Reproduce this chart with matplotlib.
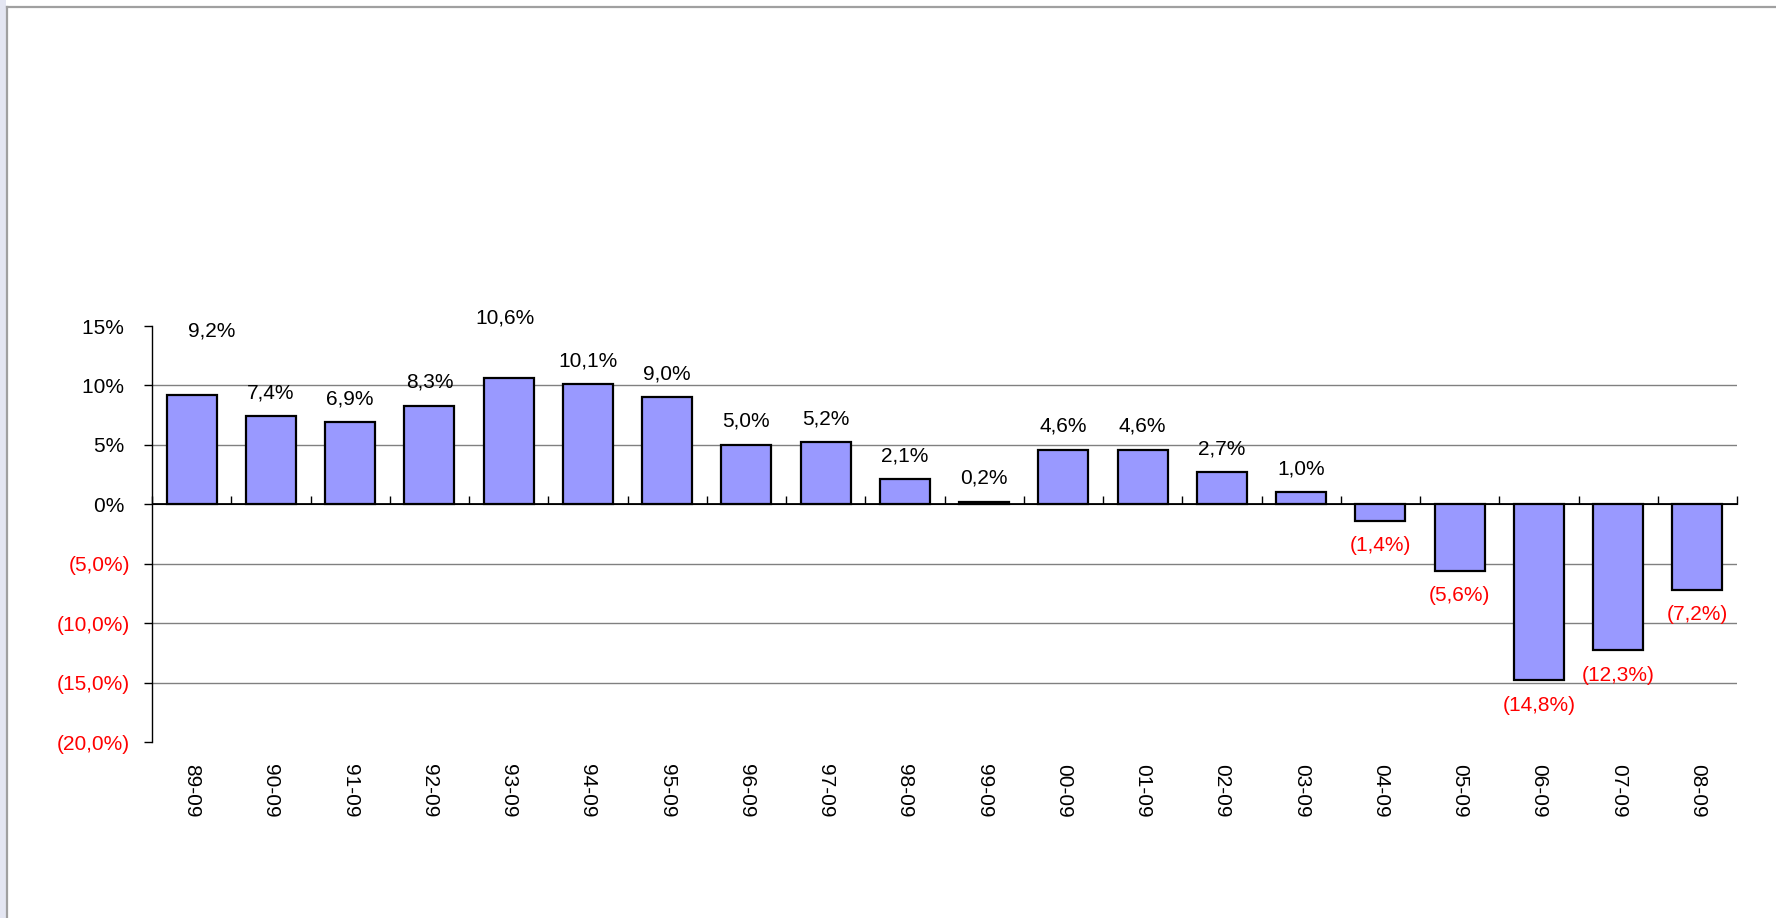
import matplotlib
matplotlib.use("Agg")
import matplotlib.pyplot as plt
from matplotlib.lines import Line2D
from matplotlib.patches import Rectangle
import numpy as np

plt.rcParams['font.family'] = ['Liberation Sans', 'DejaVu Sans']

categories = ["89-09", "90-09", "91-09", "92-09", "93-09", "94-09", "95-09",
              "96-09", "97-09", "98-09", "99-09", "00-09", "01-09", "02-09",
              "03-09", "04-09", "05-09", "06-09", "07-09", "08-09"]
values = [9.2, 7.4, 6.9, 8.3, 10.6, 10.1, 9.0, 5.0, 5.2, 2.1, 0.2, 4.6, 4.6,
          2.7, 1.0, -1.4, -5.6, -14.8, -12.3, -7.2]
ytick_values = [15, 10, 5, 0, -5, -10, -15, -20]
ytick_labels = ["15%", "10%", "5%", "0%", "(5,0%)", "(10,0%)", "(15,0%)", "(20,0%)"]
# labels Excel moved away from their bars (index -> (x shift, y) in data units)
label_override = {0: (0.25, 14.6), 4: (-0.04, 15.7)}

W, H = 1776, 918
fig = plt.figure(figsize=(W / 100, H / 100), dpi=100)
fig.patch.set_facecolor("white")

# slide frame decorations
fig.add_artist(Rectangle((0, 0), 6 / W, 1, transform=fig.transFigure,
                         facecolor="#E4E6F2", edgecolor="none"))
fig.add_artist(Line2D([7 / W, 7 / W], [0, 1 - 7 / H], transform=fig.transFigure,
                      color="#A0A0A0", lw=1.6))
fig.add_artist(Line2D([7 / W, 1], [1 - 7 / H, 1 - 7 / H], transform=fig.transFigure,
                      color="#A0A0A0", lw=1.6))

left, right, top, bottom = 152 / W, 1737 / W, 1 - 326 / H, 1 - 742 / H
ax = fig.add_axes([left, bottom, right - left, top - bottom])
ax.patch.set_alpha(0)

x = np.arange(len(categories))
ax.bar(x, values, width=0.63, color="#9999FF", edgecolor="black", linewidth=1.6, zorder=3)

ax.set_xlim(-0.5, len(categories) - 0.5)
ax.set_ylim(-20, 15)

# gridlines
for v in ytick_values:
    if v not in (0, 15, -20):
        ax.axhline(v, color="#808080", lw=1.0, zorder=1)
ax.axhline(0, color="black", lw=1.3, zorder=4)

for s in ["top", "right", "bottom"]:
    ax.spines[s].set_visible(False)
ax.spines["left"].set_color("black")
ax.spines["left"].set_linewidth(1.0)

ax.set_yticks(ytick_values)
ax.set_yticklabels([l if l.startswith("(") else l + " " for l in ytick_labels])
ax.tick_params(axis="y", length=6, width=1, pad=10, labelsize=15)
for lbl, v in zip(ax.get_yticklabels(), ytick_values):
    lbl.set_color("red" if v < 0 else "black")

ax.set_xticks(x)
ax.set_xticklabels(categories, rotation=270, fontsize=15, va="top", ha="center")
ax.tick_params(axis="x", length=0, pad=16)

# tick marks on the zero line at category boundaries
sec = ax.secondary_xaxis((0 - (-20)) / 35)
sec.set_xticks(np.arange(len(categories) + 1) - 0.5)
sec.set_xticklabels([])
sec.tick_params(axis="x", length=6, width=1, direction="out", color="black")
sec.spines["bottom"].set_visible(False)

for i, v in enumerate(values):
    txt = f"{abs(v):.1f}".replace(".", ",") + "%"
    if v < 0:
        txt = "(" + txt + ")"
    if i in label_override:
        dx, ly = label_override[i]
        ax.text(i + dx, ly, txt, ha="center", va="center",
                fontsize=15, color="black", zorder=5)
    else:
        off = 17 if v >= 0 else -18
        ax.annotate(txt, (i, v), xytext=(0, off), textcoords="offset points",
                    ha="center", va="center", fontsize=15,
                    color="black" if v >= 0 else "red", zorder=5)

fig.savefig("out.png", dpi=100)
